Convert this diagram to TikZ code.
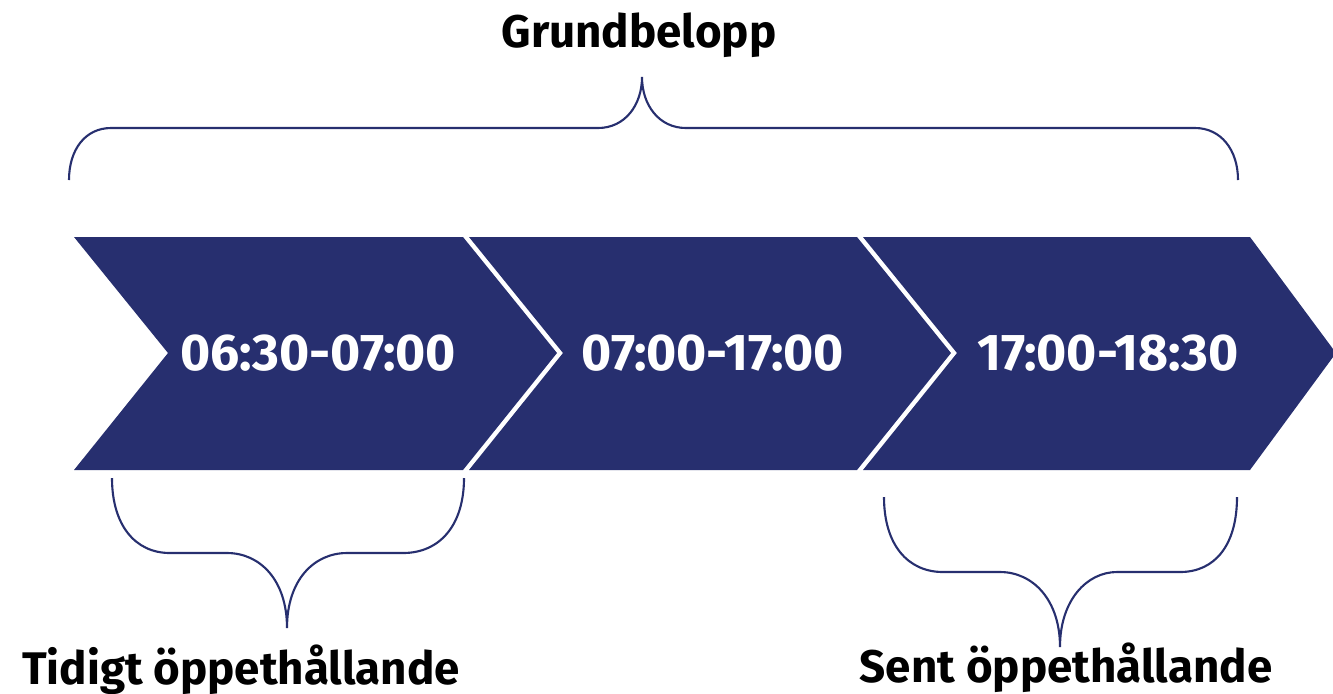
\documentclass[tikz,border=0pt]{standalone}
\usepackage{fontspec}
\setmainfont{Fira Sans}
\definecolor{navy}{HTML}{272F6F}
\tikzset{
  arrowbox/.style={fill=navy},
  timetext/.style={text=white,font=\bfseries\fontsize{14.7}{16}\selectfont,anchor=base},
  labeltext/.style={text=black,font=\bfseries\fontsize{13}{15}\selectfont,anchor=base},
  bracket/.style={draw=navy,line width=0.6pt}
}
\begin{document}
\begin{tikzpicture}[x=0.01cm,y=-0.01cm]
\useasboundingbox (0,0) rectangle (1333,693);
\clip (0,0) rectangle (1333,693);

\fill[arrowbox] (74,237) -- (463,237) -- (557,353) -- (463,470) -- (74,470) -- (168,353) -- cycle;
\fill[arrowbox] (469,237) -- (857,237) -- (951,353) -- (857,470) -- (469,470) -- (563,353) -- cycle;
\fill[arrowbox] (863,237) -- (1250,237) -- (1336,353) -- (1250,470) -- (863,470) -- (957,353) -- cycle;

\node[timetext] (early) at (318,370) {06:30-07:00};
\node[timetext] (day) at (713,370) {07:00-17:00};
\node[timetext] (late) at (1108,370) {17:00-18:30};

\node[labeltext] (base) at (639,47) {Grundbelopp};
\node[labeltext] (earlylabel) at (241,684) {Tidigt öppethållande};
\node[labeltext] (latelabel) at (1066,682) {Sent öppethållande};

\coordinate (basetip) at (642,77);
\coordinate (earlytip) at (287,628);
\coordinate (latetip) at (1060,647);

\draw[bracket] (69,180) .. controls (69,150) and (85,128) .. (111,128) -- (598,128)
  .. controls (625,128) and (642,105) .. (basetip)
  .. controls (642,105) and (659,128) .. (686,128) -- (1195,128)
  .. controls (1221,128) and (1238,150) .. (1238,180);

\draw[bracket] (112,478) .. controls (112,525) and (135,553) .. (170,553) -- (227,553)
  .. controls (260,553) and (287,580) .. (earlytip)
  .. controls (287,580) and (314,553) .. (347,553) -- (403,553)
  .. controls (440,553) and (464,525) .. (464,478);

\draw[bracket] (884,497) .. controls (884,545) and (908,572) .. (943,572) -- (1000,572)
  .. controls (1033,572) and (1060,600) .. (latetip)
  .. controls (1060,600) and (1087,572) .. (1117,572) -- (1180,572)
  .. controls (1215,572) and (1237,545) .. (1237,497);
\end{tikzpicture}
\end{document}
